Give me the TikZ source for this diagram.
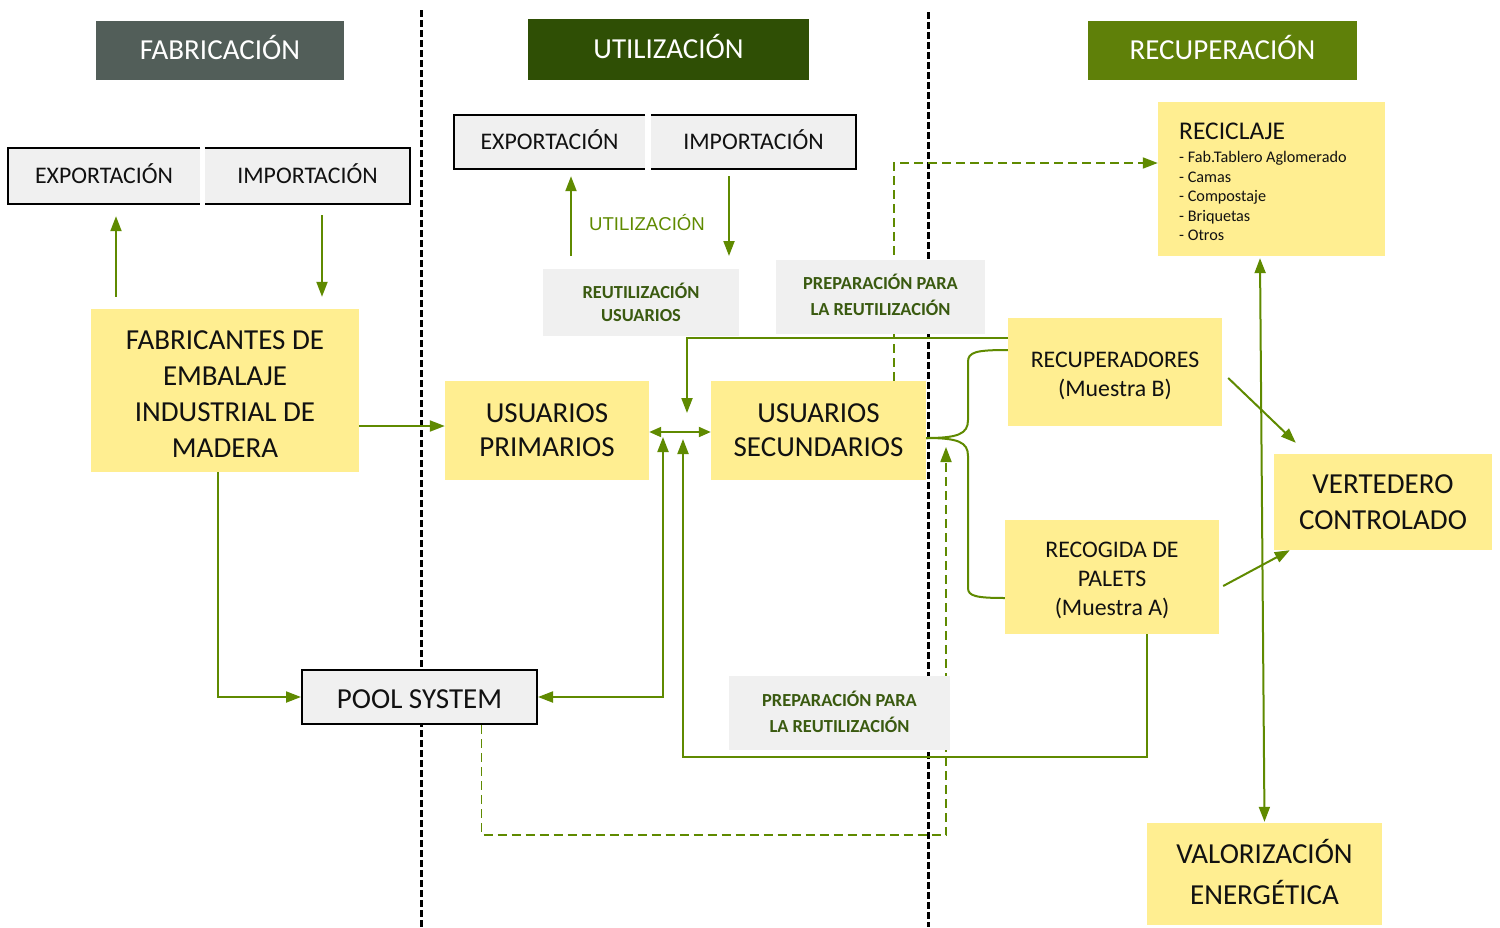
\documentclass[tikz,border=0pt]{standalone}
\usepackage{fontspec}
\setmainfont{Carlito}
\newfontfamily\arialfont{Liberation Sans}
\usetikzlibrary{arrows.meta}
\definecolor{yel}{HTML}{FFEE91}
\definecolor{gry}{HTML}{F0F0F0}
\definecolor{hdrA}{HTML}{525E59}
\definecolor{hdrB}{HTML}{2F4F05}
\definecolor{hdrC}{HTML}{5F8009}
\definecolor{ag}{HTML}{5F8A00}
\definecolor{lblg}{HTML}{3A5A10}
\definecolor{txt}{HTML}{111111}
\tikzset{
  box/.style={inner sep=0pt, align=center, text=txt},
  ybox/.style={box, fill=yel},
  gbox/.style={box, fill=gry},
  big/.style={font=\fontsize{29}{36}\selectfont},
  mid/.style={font=\fontsize{23.8}{29}\selectfont},
  hdr/.style={inner sep=0pt, text=white, font=\fontsize{29}{36}\selectfont, text height=18.7pt, text depth=0pt},
  lbl/.style={gbox, text=lblg, font=\bfseries\fontsize{18.4}{26}\selectfont},
  divider/.style={draw=black, line width=3pt, dash pattern=on 7pt off 3pt},
  frame/.style={draw=black, line width=2pt},
  tipA/.tip={Triangle[length=15pt,width=11pt]},
  tipB/.tip={Triangle[length=12pt,width=10pt]},
  gline/.style={draw=ag, line width=2pt},
  conn/.style={gline, -tipA},
  dconn/.style={gline, tipA-tipA},
  gdash/.style={draw=ag, line width=1.8pt, dash pattern=on 9pt off 5pt, -tipA},
}
\begin{document}
\begin{tikzpicture}[x=1pt,y=-1pt]
\useasboundingbox (0,0) rectangle (1500,927);
% phase dividers
\draw[divider] (421,10) -- (421,927);
\draw[divider] (928,12) -- (928,927);
% headers
\node[hdr, fill=hdrA, minimum width=248pt, minimum height=59pt] (hfab) at (220,50.5) {FABRICACIÓN};
\node[hdr, fill=hdrB, minimum width=281pt, minimum height=61pt] (huti) at (668.5,49.5) {UTILIZACIÓN};
\node[hdr, fill=hdrC, minimum width=269pt, minimum height=59pt] (hrec) at (1222.5,50.5) {RECUPERACIÓN};
% export / import left
\node[gbox, mid, text height=15.3pt, text depth=0pt, minimum width=192pt, minimum height=56pt] (expo1) at (104,176) {EXPORTACIÓN};
\node[gbox, mid, text height=15.3pt, text depth=0pt, minimum width=205pt, minimum height=56pt] (impo1) at (307.5,176) {IMPORTACIÓN};
\draw[frame] (expo1.north east) -- (expo1.north west) -- (expo1.south west) -- (expo1.south east);
\draw[frame] (impo1.north west) -- (impo1.north east) -- (impo1.south east) -- (impo1.south west);
% export / import middle
\node[gbox, mid, text height=15.3pt, text depth=0pt, minimum width=191pt, minimum height=54pt] (expo2) at (549.5,142) {EXPORTACIÓN};
\node[gbox, mid, text height=15.3pt, text depth=0pt, minimum width=205pt, minimum height=54pt] (impo2) at (753.5,142) {IMPORTACIÓN};
\draw[frame] (expo2.north east) -- (expo2.north west) -- (expo2.south west) -- (expo2.south east);
\draw[frame] (impo2.north west) -- (impo2.north east) -- (impo2.south east) -- (impo2.south west);
% main boxes
\node[ybox, big, text height=133pt, text depth=0pt, minimum width=268pt, minimum height=163pt] (fab) at (225,390.5) {FABRICANTES DE\\EMBALAJE\\INDUSTRIAL DE\\MADERA};
\node[ybox, font=\fontsize{29}{34}\selectfont, minimum width=204pt, minimum height=99pt] (prim) at (547,430.5) {USUARIOS\\PRIMARIOS};
\node[ybox, font=\fontsize{29}{34}\selectfont, minimum width=215pt, minimum height=99pt] (sec) at (818.5,430.5) {USUARIOS\\SECUNDARIOS};
\node[ybox, mid, text height=48.5pt, text depth=0pt, minimum width=214pt, minimum height=108pt] (recup) at (1115,372) {RECUPERADORES\\(Muestra B)};
\node[ybox, mid, text height=76.3pt, text depth=0pt, minimum width=214pt, minimum height=114pt] (recog) at (1112,577) {RECOGIDA DE\\PALETS\\(Muestra A)};
\node[ybox, big, minimum width=218pt, minimum height=96pt] (vert) at (1383,502) {VERTEDERO\\CONTROLADO};
\node[ybox, font=\fontsize{29}{41}\selectfont, text depth=4pt, minimum width=235pt, minimum height=102pt] (valor) at (1264.5,874) {VALORIZACIÓN\\ENERGÉTICA};
\node[ybox, minimum width=227pt, minimum height=154pt] (recic) at (1271.5,179) {};
\node[anchor=base west, inner sep=0pt, text=txt, font=\fontsize{25.5}{30}\selectfont] at (1179,139.5) {RECICLAJE};
\foreach \t/\y in {{- Fab.Tablero Aglomerado}/157, {- Camas}/176.5, {- Compostaje}/196, {- Briquetas}/215.5, {- Otros}/235}
  \node[anchor=base west, inner sep=0pt, text=txt, font=\fontsize{16.2}{19}\selectfont] at (1179,\y+5.5) {\t};
\node[gbox, big, text height=22.7pt, text depth=0pt, draw=black, line width=2pt, minimum width=235pt, minimum height=54pt] (pool) at (419.5,697) {POOL SYSTEM};
% connectors
\draw[conn] ([xshift=-109pt,yshift=12pt]fab.north) -- ([xshift=12pt,yshift=-12pt]expo1.south);
\draw[conn] ([xshift=14.5pt,yshift=-11pt]impo1.south) -- ([xshift=97pt,yshift=12pt]fab.north);
\coordinate (reutA) at (571,256);
\coordinate (reutB) at (729,256);
\draw[conn] (reutA) -- ([xshift=21.5pt,yshift=-7pt]expo2.south);
\draw[conn] ([xshift=-24.5pt,yshift=-7pt]impo2.south) -- (reutB);
\node[inner sep=0pt, text=ag, font=\arialfont\fontsize{18.6}{22}\selectfont] (utl) at (647,223) {UTILIZACIÓN};
\draw[conn] ([yshift=-35.5pt]fab.east) -- ([yshift=4.5pt]prim.west);
\draw[gline, tipB-tipB] ([yshift=-1.5pt]prim.east) -- ([yshift=-1.5pt]sec.west);
\coordinate (c1) at (687,413);
\draw[conn] ([yshift=34pt]recup.west) -| (c1);
\coordinate (c2) at (663,437);
\draw[dconn] (pool.east) -| (c2);
\coordinate (c3) at (683,439);
\draw[conn] ([xshift=35pt]recog.south) -- ++(0,123) -| (c3);
\draw[conn] ([xshift=-7pt]fab.south) |- (pool.west);
\coordinate (c4) at (946,447);
\draw[gdash] ([xshift=62pt]pool.south) -- ++(0,110) -| (c4);
\draw[gdash] ([xshift=75.5pt]sec.north) |- ([yshift=16pt]recic.west);
\draw[gline] ([yshift=-7.5pt]sec.east) .. controls (958,438) and (968,434) .. (968,420) -- (968,362) .. controls (968,352) and (976,350) .. ([yshift=22pt]recup.west);
\draw[gline] ([yshift=-7.5pt]sec.east) .. controls (958,438) and (968,442) .. (968,456) -- (968,588) .. controls (968,596) and (976,598) .. ([yshift=-21pt]recog.west);
\draw[conn] ([xshift=6pt,yshift=-6pt]recup.east) -- ([xshift=22pt,yshift=11pt]vert.north west);
\draw[conn] ([xshift=4pt,yshift=-9pt]recog.east) -- ([xshift=16pt]vert.south west);
\draw[dconn] ([xshift=-11.5pt,yshift=-2pt]recic.south) -- ([yshift=1pt]valor.north);
% labels over lines
\node[lbl, font=\bfseries\fontsize{18.4}{23}\selectfont, minimum width=196pt, minimum height=67pt] (reut) at (641,302.5) {REUTILIZACIÓN\\USUARIOS};
\node[lbl, text depth=4pt, minimum width=209pt, minimum height=74pt] (prep1) at (880.5,297) {PREPARACIÓN PARA\\LA REUTILIZACIÓN};
\node[lbl, text depth=3pt, minimum width=221pt, minimum height=74pt] (prep2) at (839.5,713) {PREPARACIÓN PARA\\LA REUTILIZACIÓN};
\end{tikzpicture}
\end{document}
